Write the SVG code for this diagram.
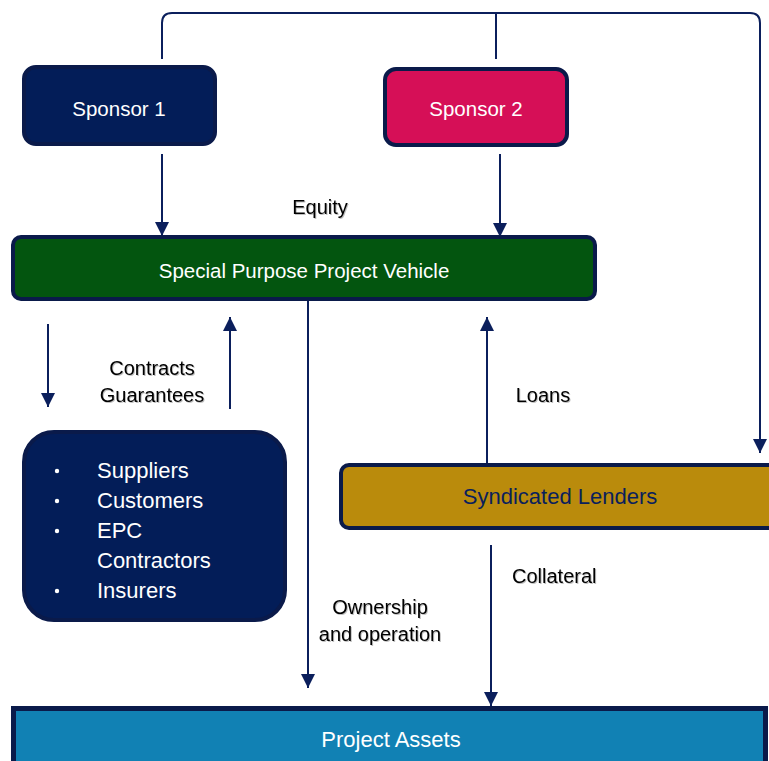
<svg xmlns="http://www.w3.org/2000/svg" width="769" height="761" viewBox="0 0 769 761">
  <defs>
    <marker id="arrow" viewBox="0 0 14 14" refX="14" refY="7" markerWidth="14" markerHeight="14" markerUnits="userSpaceOnUse" orient="auto">
      <path d="M0,0 L14,7 L0,14 Z" fill="#0b1f5c"/>
    </marker>
    <filter id="soft" x="-10%" y="-30%" width="120%" height="160%">
      <feDropShadow dx="1" dy="1" stdDeviation="0.6" flood-color="#000" flood-opacity="0.25"/>
    </filter>
  </defs>
  <style>
    .box { stroke: #0a1a4a; stroke-width: 4; }
    .wt { fill: #ffffff; font-family: "Liberation Sans", Arial, sans-serif; font-size: 20.5px; }
    .big { font-size: 22px; }
    .lbl { fill: #000000; font-family: "Liberation Sans", Arial, sans-serif; font-size: 20px; }
    .conn { fill: none; stroke: #0b1f5c; stroke-width: 2; }
  </style>
  <rect width="769" height="761" fill="#ffffff"/>

  <!-- connectors -->
  <g id="connectors">
    <path class="conn" d="M162,59 V23 Q162,13 172,13 H750 Q760,13 760,23 V453" marker-end="url(#arrow)"/>
    <path class="conn" d="M496,59 V13"/>
    <path class="conn" d="M162,154 V236" marker-end="url(#arrow)"/>
    <path class="conn" d="M500,154 V237" marker-end="url(#arrow)"/>
    <path class="conn" d="M48,324 V407" marker-end="url(#arrow)"/>
    <path class="conn" d="M230,409 V317" marker-end="url(#arrow)"/>
    <path class="conn" d="M308,301 V688" marker-end="url(#arrow)"/>
    <path class="conn" d="M487,463 V317" marker-end="url(#arrow)"/>
    <path class="conn" d="M491,545 V706" marker-end="url(#arrow)"/>
  </g>

  <!-- labels -->
  <g id="labels" filter="url(#soft)">
    <text class="lbl" x="320" y="214" text-anchor="middle">Equity</text>
    <text class="lbl" x="152" y="375" text-anchor="middle">Contracts</text>
    <text class="lbl" x="152" y="402" text-anchor="middle">Guarantees</text>
    <text class="lbl" x="543" y="402" text-anchor="middle">Loans</text>
    <text class="lbl" x="512" y="583">Collateral</text>
    <text class="lbl" x="380" y="614" text-anchor="middle">Ownership</text>
    <text class="lbl" x="380" y="641" text-anchor="middle">and operation</text>
  </g>

  <g id="sponsor1">
    <rect class="box" x="24" y="67" width="191" height="77" rx="12" fill="#031d58"/>
    <text class="wt" x="119" y="116" text-anchor="middle">Sponsor 1</text>
  </g>

  <g id="sponsor2">
    <rect class="box" x="385" y="69" width="182" height="76" rx="11" fill="#d60f57"/>
    <text class="wt" x="476" y="116" text-anchor="middle">Sponsor 2</text>
  </g>

  <g id="spv">
    <rect class="box" x="13" y="237" width="582" height="62" rx="8" fill="#03550f"/>
    <text class="wt" x="304" y="278" text-anchor="middle" font-size="21">Special Purpose Project Vehicle</text>
  </g>

  <g id="counterparties">
    <rect class="box" x="24" y="432" width="261" height="188" rx="30" fill="#031d58"/>
    <g class="wt big">
      <circle cx="57" cy="471" r="2.2" fill="#ffffff"/>
      <circle cx="57" cy="501" r="2.2" fill="#ffffff"/>
      <circle cx="57" cy="531" r="2.2" fill="#ffffff"/>
      <circle cx="57" cy="591" r="2.2" fill="#ffffff"/>
      <text x="97" y="478">Suppliers</text>
      <text x="97" y="508">Customers</text>
      <text x="97" y="538">EPC</text>
      <text x="97" y="568">Contractors</text>
      <text x="97" y="598">Insurers</text>
    </g>
  </g>

  <g id="lenders">
    <rect class="box" x="341" y="465" width="440" height="63" rx="8" fill="#ba8b0c"/>
    <text x="560" y="504" text-anchor="middle" font-family="Liberation Sans, Arial, sans-serif" font-size="22" fill="#0a1f5c">Syndicated Lenders</text>
  </g>

  <g id="assets">
    <rect x="13.5" y="708.5" width="752" height="60" fill="#1181b4" stroke="#0a1a4a" stroke-width="5"/>
    <text class="wt big" x="391" y="747" text-anchor="middle">Project Assets</text>
  </g>
</svg>
